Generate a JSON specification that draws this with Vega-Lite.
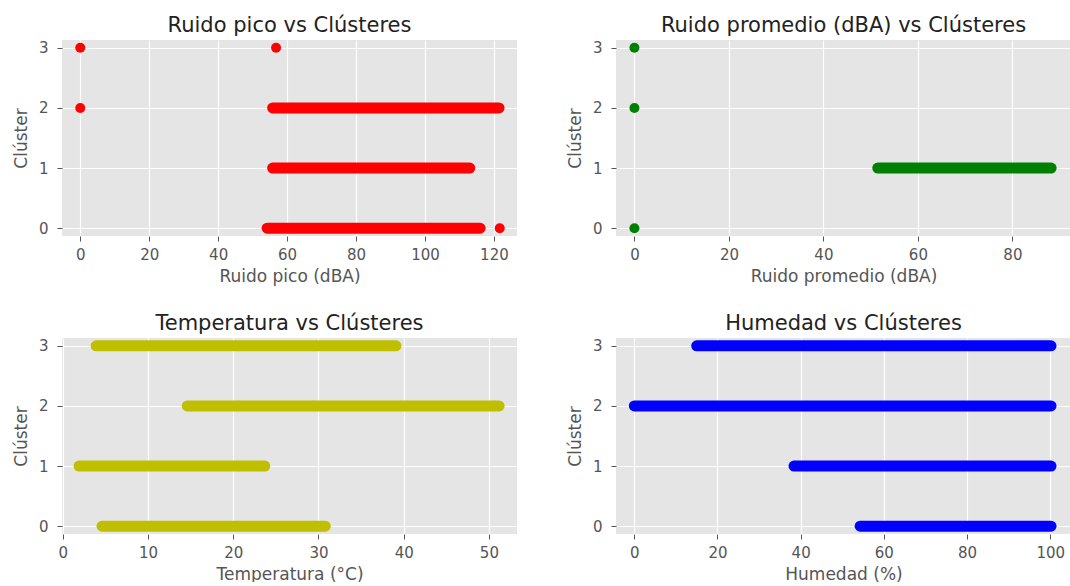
{
  "$schema": "https://vega.github.io/schema/vega-lite/v6.json",
  "padding": {"left": 12, "top": 15, "right": 0, "bottom": 0},
  "datasets": {
    "bands": [
      {"panel": "pico", "cluster": 0, "x0": 54.2, "x1": 116.0},
      {"panel": "pico", "cluster": 1, "x0": 55.8, "x1": 113.0},
      {"panel": "pico", "cluster": 2, "x0": 55.8, "x1": 121.5},
      {"panel": "prom", "cluster": 1, "x0": 51.5, "x1": 88.2},
      {"panel": "temp", "cluster": 0, "x0": 4.6, "x1": 30.8},
      {"panel": "temp", "cluster": 1, "x0": 1.9, "x1": 23.7},
      {"panel": "temp", "cluster": 2, "x0": 14.6, "x1": 51.2},
      {"panel": "temp", "cluster": 3, "x0": 3.9, "x1": 39.1},
      {"panel": "hum", "cluster": 0, "x0": 54.3, "x1": 100.2},
      {"panel": "hum", "cluster": 1, "x0": 38.4, "x1": 100.2},
      {"panel": "hum", "cluster": 2, "x0": 0.0, "x1": 100.2},
      {"panel": "hum", "cluster": 3, "x0": 15.0, "x1": 100.2}
    ],
    "points": [
      {"panel": "pico", "cluster": 3, "x0": 0.0},
      {"panel": "pico", "cluster": 3, "x0": 56.8},
      {"panel": "pico", "cluster": 2, "x0": 0.0},
      {"panel": "pico", "cluster": 0, "x0": 121.7},
      {"panel": "prom", "cluster": 0, "x0": 0.0},
      {"panel": "prom", "cluster": 2, "x0": 0.0},
      {"panel": "prom", "cluster": 3, "x0": 0.0}
    ]
  },
  "columns": 2,
  "spacing": {"row": 29, "column": 49},
  "concat": [
    {
      "width": 455, "height": 196,
      "title": "Ruido pico vs Clústeres",
      "layer": [
        {
          "data": {"name": "bands"},
          "transform": [{"filter": "datum.panel == 'pico'"}],
          "mark": {"type": "rule", "strokeWidth": 11, "strokeCap": "round", "color": "#ff0000"},
          "encoding": {
            "x": {"field": "x0", "type": "quantitative", "scale": {"domain": [-5.3, 126.7], "nice": false, "zero": false}, "axis": {"title": "Ruido pico (dBA)", "values": [0, 20, 40, 60, 80, 100, 120]}},
            "x2": {"field": "x1"},
            "y": {"field": "cluster", "type": "quantitative", "scale": {"domain": [-0.13, 3.13], "nice": false, "zero": false}, "axis": {"title": "Clúster", "values": [0, 1, 2, 3]}}
          }
        },
        {
          "data": {"name": "points"},
          "transform": [{"filter": "datum.panel == 'pico'"}],
          "mark": {"type": "circle", "size": 100, "opacity": 1, "color": "#ff0000"},
          "encoding": {
            "x": {"field": "x0", "type": "quantitative", "scale": {"domain": [-5.3, 126.7], "nice": false, "zero": false}, "axis": {"title": "Ruido pico (dBA)", "values": [0, 20, 40, 60, 80, 100, 120]}},
            "y": {"field": "cluster", "type": "quantitative", "scale": {"domain": [-0.13, 3.13], "nice": false, "zero": false}, "axis": {"title": "Clúster", "values": [0, 1, 2, 3]}}
          }
        }
      ]
    },
    {
      "width": 455, "height": 196,
      "title": "Ruido promedio (dBA) vs Clústeres",
      "layer": [
        {
          "data": {"name": "bands"},
          "transform": [{"filter": "datum.panel == 'prom'"}],
          "mark": {"type": "rule", "strokeWidth": 11, "strokeCap": "round", "color": "#008000"},
          "encoding": {
            "x": {"field": "x0", "type": "quantitative", "scale": {"domain": [-3.9, 92.4], "nice": false, "zero": false}, "axis": {"title": "Ruido promedio (dBA)", "values": [0, 20, 40, 60, 80]}},
            "x2": {"field": "x1"},
            "y": {"field": "cluster", "type": "quantitative", "scale": {"domain": [-0.13, 3.13], "nice": false, "zero": false}, "axis": {"title": "Clúster", "values": [0, 1, 2, 3]}}
          }
        },
        {
          "data": {"name": "points"},
          "transform": [{"filter": "datum.panel == 'prom'"}],
          "mark": {"type": "circle", "size": 100, "opacity": 1, "color": "#008000"},
          "encoding": {
            "x": {"field": "x0", "type": "quantitative", "scale": {"domain": [-3.9, 92.4], "nice": false, "zero": false}, "axis": {"title": "Ruido promedio (dBA)", "values": [0, 20, 40, 60, 80]}},
            "y": {"field": "cluster", "type": "quantitative", "scale": {"domain": [-0.13, 3.13], "nice": false, "zero": false}, "axis": {"title": "Clúster", "values": [0, 1, 2, 3]}}
          }
        }
      ]
    },
    {
      "width": 455, "height": 196,
      "title": "Temperatura vs Clústeres",
      "data": {"name": "bands"},
      "transform": [{"filter": "datum.panel == 'temp'"}],
      "mark": {"type": "rule", "strokeWidth": 11, "strokeCap": "round", "color": "#bfbf00"},
      "encoding": {
        "x": {"field": "x0", "type": "quantitative", "scale": {"domain": [-0.1, 53.3], "nice": false, "zero": false}, "axis": {"title": "Temperatura (°C)", "values": [0, 10, 20, 30, 40, 50]}},
        "x2": {"field": "x1"},
        "y": {"field": "cluster", "type": "quantitative", "scale": {"domain": [-0.13, 3.13], "nice": false, "zero": false}, "axis": {"title": "Clúster", "values": [0, 1, 2, 3]}}
      }
    },
    {
      "width": 455, "height": 196,
      "title": "Humedad vs Clústeres",
      "data": {"name": "bands"},
      "transform": [{"filter": "datum.panel == 'hum'"}],
      "mark": {"type": "rule", "strokeWidth": 11, "strokeCap": "round", "color": "#0000ff"},
      "encoding": {
        "x": {"field": "x0", "type": "quantitative", "scale": {"domain": [-4.4, 105], "nice": false, "zero": false}, "axis": {"title": "Humedad (%)", "values": [0, 20, 40, 60, 80, 100]}},
        "x2": {"field": "x1"},
        "y": {"field": "cluster", "type": "quantitative", "scale": {"domain": [-0.13, 3.13], "nice": false, "zero": false}, "axis": {"title": "Clúster", "values": [0, 1, 2, 3]}}
      }
    }
  ],
  "config": {
    "font": "DejaVu Sans",
    "view": {"fill": "#E5E5E5", "stroke": null},
    "axis": {
      "domain": false, "grid": true, "gridColor": "#ffffff", "gridWidth": 1.2,
      "tickColor": "#555555", "tickSize": 5, "tickWidth": 1,
      "labelColor": "#555555", "labelFontSize": 15, "labelFlush": false, "labelOverlap": false,
      "titleColor": "#555555", "titleFontSize": 17, "titleFontWeight": "normal"
    },
    "axisX": {"labelPadding": 6, "titlePadding": 6},
    "axisY": {"labelPadding": 9, "titlePadding": 8},
    "title": {"fontSize": 21, "fontWeight": "normal", "color": "#222222", "frame": "group", "offset": 4}
  }
}
